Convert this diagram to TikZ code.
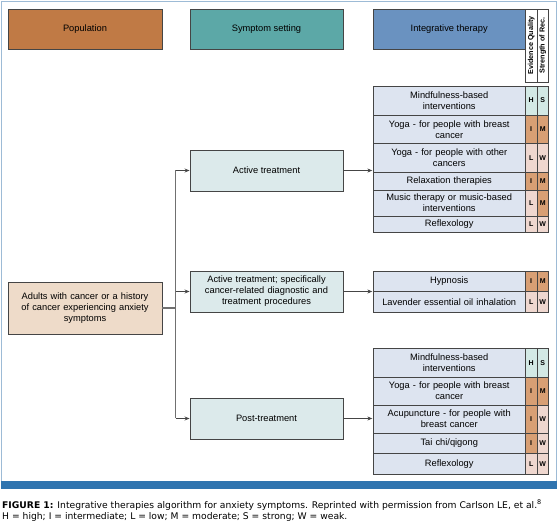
\documentclass[tikz,border=0pt]{standalone}
\usepackage{fontspec}
\setmainfont{Liberation Sans}
\newfontfamily\capfont{DejaVu Sans}
\usetikzlibrary{arrows.meta,fit,positioning}
\definecolor{popc}{HTML}{C07A45}
\definecolor{symc}{HTML}{5CA8A7}
\definecolor{intc}{HTML}{6A92C0}
\definecolor{peach}{HTML}{EEDBC9}
\definecolor{symlight}{HTML}{DCEAEB}
\definecolor{rowc}{HTML}{DDE4F0}
\definecolor{hic}{HTML}{D3E9E5}
\definecolor{midc}{HTML}{D89F74}
\definecolor{lowc}{HTML}{EFD7CF}
\definecolor{framec}{HTML}{9DBBD6}
\definecolor{barc}{HTML}{2F74AF}
\definecolor{bordc}{HTML}{454545}
\definecolor{trunkc}{HTML}{707070}
\tikzset{
  box/.style={draw=bordc,line width=0.9pt,inner sep=0pt,align=center,font=\fontsize{9.3}{11}\selectfont},
  cell/.style={box,fill=rowc},
  lett/.style={draw=bordc,line width=0.9pt,inner sep=0pt,font=\bfseries\fontsize{7}{8}\selectfont,minimum width=11.5pt},
  arr/.style={draw=bordc,line width=0.8pt,-{Stealth[length=5pt,width=4pt]}},
  trunk/.style={draw=trunkc,line width=1.4pt},
  vhead/.style={draw=bordc,line width=0.7pt,fill=white,inner sep=0pt,minimum width=11.5pt,minimum height=73pt,font=\bfseries\fontsize{7.2}{8}\selectfont}
}
% row macro: name, ytop, ybot, text, letter1, colour1, letter2, colour2
\newcommand{\therow}[8]{%
  \node[cell,minimum width=152.5pt,minimum height={#3-#2},text width=150pt] (#1) at ({(373+525.5)/2},{(#2+#3)/2}) {#4};
  \node[lett,fill=#6,minimum height={#3-#2}] (#1e) at (531.2,{(#2+#3)/2}) {#5};
  \node[lett,fill=#8,minimum height={#3-#2}] (#1s) at (542.7,{(#2+#3)/2}) {#7};
}
\begin{document}
\begin{tikzpicture}[x=1pt,y=-1pt]
\useasboundingbox (0,0) rectangle (558,524);
% frame
\draw[framec,line width=1.2pt] (1.5,481) -- (1.5,1.2) -- (556.3,1.2) -- (556.3,481);
\fill[barc] (0.8,481) rectangle (557,489);
% headers
\node[box,fill=popc,minimum width=154pt,minimum height=40pt] (hpop) at (85,29) {Population};
\node[box,fill=symc,minimum width=153pt,minimum height=40pt] (hsym) at (266.5,29) {Symptom setting};
\node[box,fill=intc,minimum width=152.5pt,minimum height=40pt] (hint) at (449.2,29) {Integrative therapy};
\node[vhead] (heq) at (531.2,45.5) {\rotatebox{90}{Evidence Quality}};
\node[vhead] (hsr) at (542.7,45.5) {\rotatebox{90}{Strength of Rec.}};
% population
\node[box,fill=peach,minimum width=154pt,minimum height=52pt,text width=152pt] (pop) at (85,308) {Adults with cancer or a history\\of cancer experiencing anxiety\\symptoms};
% symptom settings
\node[box,fill=symlight,minimum width=153pt,minimum height=41pt] (s1) at (266.5,170.5) {Active treatment};
\node[box,fill=symlight,minimum width=153pt,minimum height=41pt,text width=151pt] (s2) at (266.5,291.5) {Active treatment; specifically\\cancer-related diagnostic and\\treatment procedures};
\node[box,fill=symlight,minimum width=153pt,minimum height=41pt] (s3) at (266.5,418.5) {Post-treatment};
% table 1
\therow{a1}{86}{115}{Mindfulness-based\\interventions}{H}{hic}{S}{hic}
\therow{a2}{115}{143.5}{Yoga - for people with breast\\cancer}{I}{midc}{M}{midc}
\therow{a3}{143.5}{172}{Yoga - for people with other\\cancers}{L}{lowc}{W}{lowc}
\therow{a4}{172}{190}{Relaxation therapies}{I}{midc}{M}{midc}
\therow{a5}{190}{216}{Music therapy or music-based\\interventions}{L}{lowc}{M}{midc}
\therow{a6}{216}{232}{Reflexology}{L}{lowc}{W}{lowc}
% table 2
\therow{b1}{271}{291.5}{Hypnosis}{I}{midc}{M}{midc}
\therow{b2}{291.5}{312}{Lavender essential oil inhalation}{L}{lowc}{W}{lowc}
% table 3
\therow{c1}{348.5}{377}{Mindfulness-based\\interventions}{H}{hic}{S}{hic}
\therow{c2}{377}{405}{Yoga - for people with breast\\cancer}{I}{midc}{M}{midc}
\therow{c3}{405}{433}{Acupuncture - for people with\\breast cancer}{I}{midc}{W}{lowc}
\therow{c4}{433}{453.5}{Tai chi/qigong}{I}{midc}{W}{lowc}
\therow{c5}{453.5}{474.5}{Reflexology}{L}{lowc}{W}{lowc}
\node[fit=(a1)(a6),inner sep=0pt] (t1) {};
\node[fit=(b1)(b2),inner sep=0pt] (t2) {};
\node[fit=(c1)(c5),inner sep=0pt] (t3) {};
% connectors
\coordinate (j) at (175.5,308);
\draw[trunk] (pop.east) -- (j);
\draw[trunk] (j |- s1.west) -- (j |- s3.west);
\draw[arr] (j |- s1.west) -- (s1.west);
\draw[arr] (j |- s2.west) -- (s2.west);
\draw[arr] (j |- s3.west) -- (s3.west);
\draw[arr] (s1.east) -- (s1.east -| t1.west);
\draw[arr] (s2.east) -- (s2.east -| t2.west);
\draw[arr] (s3.east) -- (s3.east -| t3.west);
% caption
\node[anchor=base west,inner sep=0pt,font=\capfont\fontsize{9.2}{11}\selectfont] (cap1) at (2,508) {\textbf{FIGURE 1:} Integrative therapies algorithm for anxiety symptoms. Reprinted with permission from Carlson LE, et al.\textsuperscript{8}};
\node[anchor=base west,inner sep=0pt,font=\capfont\fontsize{9.2}{11}\selectfont] (cap2) at (2,519) {H = high; I = intermediate; L = low; M = moderate; S = strong; W = weak.};
\end{tikzpicture}
\end{document}
